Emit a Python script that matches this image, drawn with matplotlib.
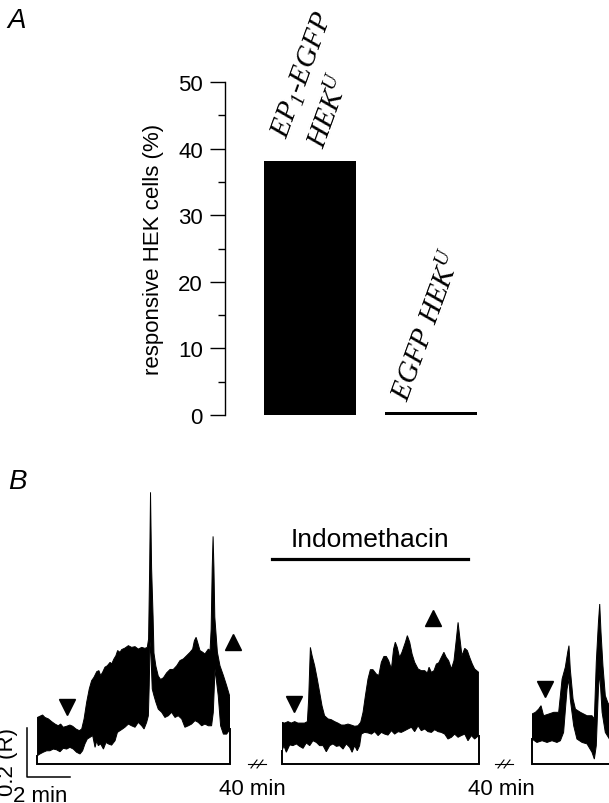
import numpy as np
import matplotlib
matplotlib.use("Agg")
import matplotlib.pyplot as plt
from matplotlib.lines import Line2D

plt.rcParams['font.family'] = ['Liberation Sans', 'DejaVu Sans']
plt.rcParams['mathtext.fontset'] = 'custom'
plt.rcParams['mathtext.it'] = 'Liberation Serif:italic'
plt.rcParams['mathtext.rm'] = 'Liberation Serif:italic'

# ---- panel A data
groups = ['EP1-EGFP HEK', 'EGFP HEK']
responsive = [38.1, 0.4]

# ---- panel B data (time in min, ratio above trace baseline)
# trace 1 (control)
t1_up = [0.02, 0.14, 0.26, 0.37, 0.53, 0.68, 0.84, 0.99, 1.10, 1.22, 1.38, 1.53, 1.66, 1.81, 1.97,
         2.08, 2.19, 2.31, 2.43, 2.54, 2.65, 2.78, 2.88, 2.96, 3.05, 3.16, 3.27, 3.40, 3.47, 3.58,
         3.67, 3.75, 3.86, 3.94, 4.09, 4.25, 4.40, 4.56, 4.71, 4.87, 5.02, 5.13, 5.19, 5.24, 5.28,
         5.33, 5.40, 5.44, 5.53, 5.64, 5.75, 5.88, 6.03, 6.19, 6.34, 6.50, 6.65, 6.81, 6.96, 7.12,
         7.24, 7.32, 7.40, 7.47, 7.58, 7.71, 7.81, 7.97, 8.05, 8.10, 8.15, 8.19, 8.23, 8.27, 8.39,
         8.51, 8.67, 8.82, 8.98]
r1_up = [0.190, 0.195, 0.200, 0.190, 0.184, 0.173, 0.163, 0.156, 0.163, 0.150, 0.154, 0.159, 0.154,
         0.143, 0.136, 0.143, 0.184, 0.252, 0.306, 0.340, 0.354, 0.377, 0.381, 0.361, 0.374, 0.395,
         0.401, 0.415, 0.408, 0.429, 0.442, 0.463, 0.456, 0.467, 0.473, 0.483, 0.476, 0.479, 0.469,
         0.476, 0.472, 0.476, 0.510, 0.800, 1.109, 0.800, 0.600, 0.453, 0.399, 0.359, 0.345, 0.352,
         0.372, 0.386, 0.386, 0.401, 0.422, 0.429, 0.442, 0.456, 0.469, 0.503, 0.517, 0.497, 0.463,
         0.456, 0.449, 0.469, 0.463, 0.550, 0.800, 0.929, 0.800, 0.600, 0.456, 0.401, 0.361, 0.320,
         0.272]
t1_lo = [0.02, 0.14, 0.29, 0.45, 0.60, 0.76, 0.91, 1.07, 1.22, 1.38, 1.53, 1.69, 1.84, 2.00, 2.12,
         2.23, 2.34, 2.47, 2.59, 2.70, 2.78, 2.85, 2.96, 3.09, 3.21, 3.32, 3.47, 3.63, 3.74, 3.86,
         3.98, 4.09, 4.25, 4.40, 4.56, 4.71, 4.87, 4.98, 5.10, 5.18, 5.22, 5.26, 5.30, 5.36, 5.44,
         5.53, 5.64, 5.80, 5.95, 6.11, 6.26, 6.42, 6.57, 6.73, 6.88, 7.04, 7.19, 7.35, 7.50, 7.66,
         7.81, 7.97, 8.12, 8.20, 8.28, 8.43, 8.54, 8.67, 8.82, 8.98]
r1_lo = [0.034, 0.041, 0.048, 0.054, 0.054, 0.061, 0.058, 0.050, 0.064, 0.061, 0.068, 0.061, 0.048,
         0.041, 0.054, 0.082, 0.102, 0.109, 0.116, 0.068, 0.095, 0.075, 0.082, 0.061, 0.088, 0.082,
         0.077, 0.095, 0.129, 0.136, 0.143, 0.150, 0.163, 0.156, 0.150, 0.170, 0.156, 0.143, 0.170,
         0.197, 0.320, 0.500, 0.450, 0.306, 0.279, 0.252, 0.224, 0.211, 0.190, 0.197, 0.211, 0.190,
         0.197, 0.184, 0.150, 0.156, 0.163, 0.177, 0.170, 0.156, 0.163, 0.156, 0.156, 0.211, 0.388,
         0.279, 0.156, 0.122, 0.122, 0.143]

# trace 2 (indomethacin)
t2_up = [0.00, 0.12, 0.28, 0.43, 0.59, 0.74, 0.90, 1.05, 1.18, 1.24, 1.32, 1.40, 1.52, 1.64, 1.75,
         1.86, 1.98, 2.14, 2.29, 2.45, 2.60, 2.76, 2.91, 3.07, 3.22, 3.38, 3.53, 3.66, 3.77, 3.88,
         4.00, 4.11, 4.23, 4.39, 4.50, 4.62, 4.74, 4.85, 4.96, 5.09, 5.19, 5.27, 5.36, 5.47, 5.58,
         5.74, 5.83, 5.94, 6.05, 6.17, 6.33, 6.48, 6.64, 6.76, 6.84, 6.95, 7.07, 7.18, 7.29, 7.41,
         7.53, 7.64, 7.75, 7.88, 8.00, 8.11, 8.19, 8.26, 8.37, 8.50, 8.62, 8.73, 8.85, 8.96, 9.15]
r2_up = [0.170, 0.167, 0.173, 0.167, 0.173, 0.167, 0.167, 0.167, 0.173, 0.265, 0.476, 0.442, 0.401,
         0.347, 0.293, 0.238, 0.197, 0.184, 0.181, 0.173, 0.167, 0.159, 0.159, 0.163, 0.159, 0.154,
         0.156, 0.170, 0.211, 0.279, 0.347, 0.385, 0.385, 0.367, 0.361, 0.415, 0.439, 0.439, 0.422,
         0.388, 0.469, 0.497, 0.476, 0.435, 0.456, 0.497, 0.524, 0.497, 0.449, 0.415, 0.388, 0.381,
         0.381, 0.371, 0.395, 0.374, 0.381, 0.408, 0.413, 0.435, 0.456, 0.435, 0.422, 0.388, 0.422,
         0.510, 0.578, 0.524, 0.442, 0.472, 0.463, 0.435, 0.408, 0.388, 0.374]
t2_lo = [0.00, 0.09, 0.20, 0.36, 0.51, 0.67, 0.82, 0.98, 1.13, 1.29, 1.44, 1.60, 1.75, 1.91, 2.06,
         2.22, 2.37, 2.53, 2.68, 2.84, 2.99, 3.15, 3.26, 3.38, 3.50, 3.61, 3.69, 3.84, 4.00, 4.16,
         4.31, 4.47, 4.62, 4.78, 4.93, 5.09, 5.24, 5.40, 5.55, 5.71, 5.86, 6.02, 6.17, 6.33, 6.48,
         6.64, 6.79, 6.95, 7.10, 7.26, 7.41, 7.57, 7.72, 7.88, 8.03, 8.19, 8.34, 8.50, 8.65, 8.81,
         8.96, 9.15]
r2_lo = [0.054, 0.075, 0.048, 0.078, 0.075, 0.082, 0.072, 0.064, 0.086, 0.075, 0.095, 0.088, 0.075,
         0.075, 0.050, 0.075, 0.082, 0.072, 0.075, 0.061, 0.082, 0.068, 0.048, 0.075, 0.054, 0.075,
         0.122, 0.129, 0.127, 0.122, 0.132, 0.116, 0.129, 0.122, 0.118, 0.136, 0.122, 0.132, 0.129,
         0.136, 0.143, 0.150, 0.132, 0.156, 0.136, 0.143, 0.132, 0.129, 0.140, 0.132, 0.129, 0.122,
         0.102, 0.109, 0.122, 0.109, 0.116, 0.122, 0.095, 0.116, 0.102, 0.116]

# trace 3 (washout)
t3_up = [0.0, 0.16, 0.31, 0.42, 0.54, 0.78, 1.01, 1.24, 1.40, 1.55, 1.66, 1.72, 1.78, 1.91, 2.02,
         2.25, 2.56, 2.79, 2.90, 2.99, 3.09, 3.15, 3.21, 3.30, 3.41, 3.52, 3.60]
r3_up = [0.204, 0.211, 0.224, 0.238, 0.197, 0.204, 0.211, 0.211, 0.347, 0.395, 0.456, 0.483, 0.388,
         0.265, 0.224, 0.211, 0.197, 0.197, 0.184, 0.415, 0.578, 0.653, 0.537, 0.401, 0.279, 0.252,
         0.238]
t3_lo = [0.0, 0.23, 0.47, 0.70, 0.93, 1.16, 1.32, 1.47, 1.63, 1.72, 1.78, 1.94, 2.09, 2.33, 2.56,
         2.79, 2.90, 2.99, 3.09, 3.15, 3.26, 3.41, 3.60]
r3_lo = [0.102, 0.088, 0.095, 0.088, 0.095, 0.088, 0.095, 0.129, 0.306, 0.347, 0.265, 0.156, 0.102,
         0.088, 0.082, 0.048, 0.020, 0.075, 0.306, 0.374, 0.211, 0.129, 0.102]

# arrowheads: (time, ratio)
down_marks = [(1.41, 0.233), (0.56, 0.245), (0.62, 0.306)]
up_marks = [(9.12, 0.498), (7.0, 0.596), None]

W, H = 609, 804
fig = plt.figure(figsize=(W / 100, H / 100), dpi=100)


def fx(px):
    return px / W


def fy(py):
    return 1 - py / H


# ---------------- panel A
axA = fig.add_axes([fx(225), fy(416), fx(490) - fx(225), fy(83) - fy(416)])
xpos = [0, 1]
axA.bar(xpos, responsive, width=0.76, color='black')
axA.set_xlim(-0.70, 1.49)
axA.set_ylim(0, 50)
for s in ['top', 'right', 'bottom']:
    axA.spines[s].set_visible(False)
axA.spines['left'].set_linewidth(1.0)
axA.set_xticks([])
axA.set_yticks([0, 10, 20, 30, 40, 50])
axA.set_yticks([5, 15, 25, 35, 45], minor=True)
axA.tick_params(axis='y', which='major', length=11, width=1.0, labelsize=16, pad=5)
axA.tick_params(axis='y', which='minor', length=5, width=1.0)
axA.set_ylabel('responsive HEK cells (%)', fontsize=16, labelpad=10)

lab_kw = dict(family='Liberation Serif', style='italic', fontsize=21, rotation=70,
              ha='center', va='center', clip_on=False)
axA.text(-0.06, 51.2, r'EP$_{\mathit{1}}$-EGFP', **lab_kw)
axA.text(0.17, 45.8, r'HEK$^{\mathit{U}}$', **lab_kw)
axA.text(0.98, 13.5, r'EGFP HEK$^{\mathit{U}}$', **lab_kw)

fig.text(fx(17), fy(21), 'A', fontsize=20, style='italic', ha='center', va='center')
fig.text(fx(17), fy(482), 'B', fontsize=20, style='italic', ha='center', va='center')

# ---------------- panel B
rmax = 285 / 245
traces = [
    (t1_up, r1_up, t1_lo, r1_lo, 37, 193),
    (t2_up, r2_up, t2_lo, r2_lo, 282, 197),
    (t3_up, r3_up, t3_lo, r3_lo, 532, 197),
]
axes_B = []
for i, (tu, ru, tl, rl, left, width) in enumerate(traces):
    ax = fig.add_axes([fx(left), fy(765), fx(width), fy(480) - fy(765)])
    ax.set_xlim(0, width / 21.5)
    ax.set_ylim(0, rmax)
    ax.axis('off')
    ax.fill(np.r_[tu, tl[::-1]], np.r_[ru, rl[::-1]], color='black', lw=0.7)
    tend = tl[-1] if i < 2 else width / 21.5 + 1
    ax.plot([tl[0], tl[0], tend, tend], [rl[0], 0, 0, rl[-1]], color='black', lw=1.4,
            solid_joinstyle='miter', clip_on=False)
    d = down_marks[i]
    ax.plot(d[0], d[1], marker='v', color='black', ms=11, clip_on=False)
    if up_marks[i] is not None:
        u = up_marks[i]
        ax.plot(u[0], u[1], marker='^', color='black', ms=11, clip_on=False)
    axes_B.append(ax)

# scale bar: 2 min x 0.2 R
ax1 = axes_B[0]
ax1.plot([-0.47, -0.47, -0.47 + 2], [-0.053 + 0.2, -0.053, -0.053], color='black', lw=1.1,
         clip_on=False)
fig.text(fx(8), fy(762), '0.2 (R)', fontsize=16, rotation=90, ha='center', va='center')
fig.text(fx(40), fy(797), '2 min', fontsize=16, ha='center', va='center')

# indomethacin bar
fig.add_artist(Line2D([fx(272), fx(468)], [fy(560), fy(560)], color='black', lw=2.3))
fig.text(fx(370), fy(540), 'Indomethacin', fontsize=19, ha='center', va='center')

# gaps between recordings
for cx, lx in [(257, 252), (504, 501)]:
    fig.add_artist(Line2D([fx(cx - 9), fx(cx + 9)], [fy(765), fy(765)], color='black', lw=0.8))
    for dx in (-3, 3):
        fig.add_artist(Line2D([fx(cx + dx - 3), fx(cx + dx + 3)], [fy(769), fy(761)],
                              color='black', lw=0.8))
    fig.text(fx(lx), fy(790), '40 min', fontsize=16, ha='center', va='center')

fig.savefig('out.png', dpi=100)
